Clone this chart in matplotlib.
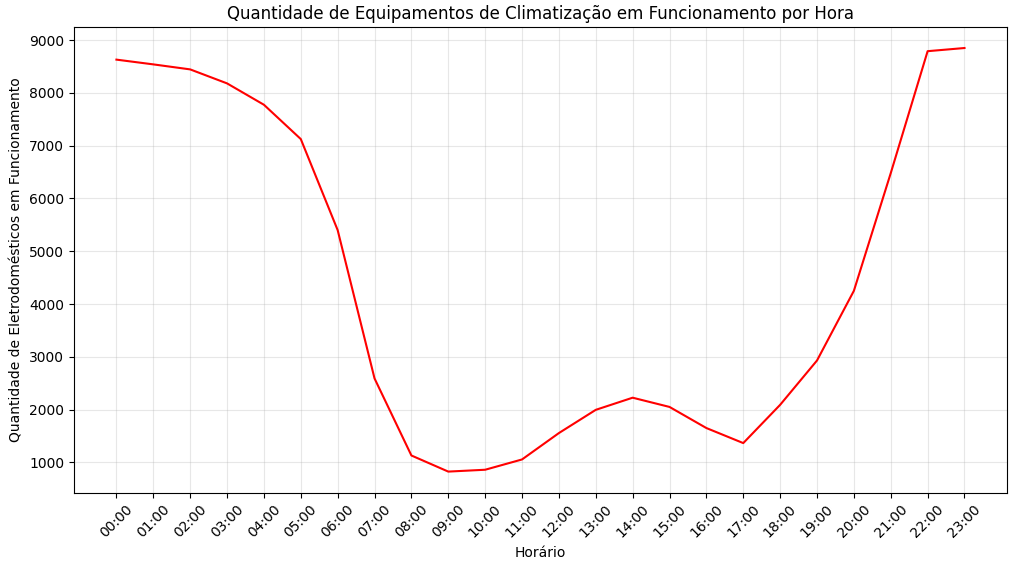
import matplotlib
matplotlib.use("Agg")
import matplotlib.pyplot as plt

horas = ['%02d:00' % h for h in range(24)]
quantidade = [8630, 8540, 8445, 8180, 7775, 7125, 5400, 2590, 1130, 825, 860, 1055,
              1555, 1995, 2225, 2050, 1650, 1365, 2090, 2930, 4250, 6480, 8790, 8850]

fig = plt.figure(figsize=(10.14, 5.71), dpi=100)
ax = fig.add_axes([0.073, 0.137, 0.920, 0.816])
ax.plot(horas, quantidade, color='red')
ax.set_title('Quantidade de Equipamentos de Climatização em Funcionamento por Hora')
ax.set_xlabel('Horário')
ax.set_ylabel('Quantidade de Eletrodomésticos em Funcionamento')
plt.xticks(rotation=45)
ax.grid(True, alpha=0.3)
fig.savefig('out.png')
